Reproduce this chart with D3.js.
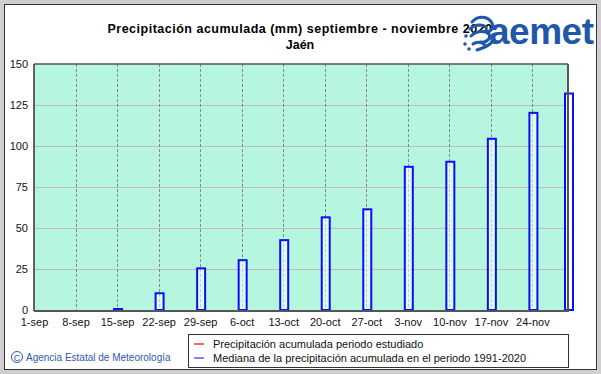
<!DOCTYPE html>
<html>
<head>
<meta charset="utf-8">
<script src="https://cdn.jsdelivr.net/npm/d3@7"></script>
<style>
  body { margin: 0; background: #fff; }
  svg { display: block; font-family: 'Liberation Sans', Arial, sans-serif; }
</style>
</head>
<body>
<svg id="chart" width="601" height="374"></svg>
<script>
// weekly tick dates and their labels
const tickDates = ['2020-09-01', '2020-09-08', '2020-09-15', '2020-09-22', '2020-09-29',
  '2020-10-06', '2020-10-13', '2020-10-20', '2020-10-27', '2020-11-03',
  '2020-11-10', '2020-11-17', '2020-11-24'];
const tickLabels = ['1-sep', '8-sep', '15-sep', '22-sep', '29-sep', '6-oct', '13-oct',
  '20-oct', '27-oct', '3-nov', '10-nov', '17-nov', '24-nov'];

// median accumulated precipitation 1991-2020 (blue bars)
const medianDates = ['2020-09-15', '2020-09-22', '2020-09-29', '2020-10-06', '2020-10-13',
  '2020-10-20', '2020-10-27', '2020-11-03', '2020-11-10', '2020-11-17',
  '2020-11-24', '2020-11-30'];
const medianValues = [0.6, 10.2, 25.4, 30.4, 42.6, 56.5, 61.4, 87.3, 90.4, 104.4, 120.2, 132];

const yTicks = [0, 25, 50, 75, 100, 125, 150];

const legendLabels = ['Precipitación acumulada periodo estudiado',
  'Mediana de la precipitación acumulada en el periodo 1991-2020'];
const legendColors = ['#ff0000', '#3030ff'];

const parse = d3.timeParse('%Y-%m-%d');
const svg = d3.select('#chart');

// outer frame
svg.append('rect').attr('width', 601).attr('height', 374).attr('fill', '#cfcfcf');
svg.append('rect')
  .attr('x', 4.5).attr('y', 4.5).attr('width', 592).attr('height', 365)
  .attr('fill', '#fff').attr('stroke', '#333').attr('stroke-width', 1);

const plotL = 34, plotR = 568, plotT = 64, plotB = 310;

const x = d3.scaleTime()
  .domain([parse('2020-09-01'), parse('2020-11-30')])
  .range([plotL, plotR]);
const y = d3.scaleLinear().domain([0, 150]).range([plotB, plotT]);

// plot background
svg.append('rect')
  .attr('x', plotL).attr('y', plotT)
  .attr('width', plotR - plotL).attr('height', plotB - plotT)
  .attr('fill', '#b6f5de');

// horizontal grid
svg.append('g')
  .selectAll('line')
  .data(yTicks.filter(d => d > 0 && d < 150))
  .join('line')
  .attr('x1', plotL).attr('x2', plotR)
  .attr('y1', d => y(d) + 0.5).attr('y2', d => y(d) + 0.5)
  .attr('stroke', '#c2b6c6').attr('stroke-width', 1.2);

// vertical dashed grid
svg.append('g')
  .selectAll('line')
  .data(tickDates.slice(1))
  .join('line')
  .attr('x1', d => Math.round(x(parse(d))) + 0.5)
  .attr('x2', d => Math.round(x(parse(d))) + 0.5)
  .attr('y1', plotT).attr('y2', plotB)
  .attr('stroke', '#888').attr('stroke-width', 1)
  .attr('stroke-dasharray', '3,2');

// median bars
const barW = 8;
svg.append('g')
  .selectAll('rect')
  .data(medianValues)
  .join('rect')
  .attr('x', (d, i) => x(parse(medianDates[i])) - barW / 2 + 1)
  .attr('y', d => y(d))
  .attr('width', barW)
  .attr('height', d => Math.max(1, plotB - y(d)))
  .attr('fill', 'rgba(255,255,255,0.55)')
  .attr('stroke', '#0a10f5')
  .attr('stroke-width', 2);

// plot border
svg.append('line').attr('x1', plotL).attr('x2', plotR).attr('y1', plotT).attr('y2', plotT)
  .attr('stroke', '#555').attr('stroke-width', 1.5);
svg.append('line').attr('x1', plotR).attr('x2', plotR).attr('y1', plotT).attr('y2', plotB)
  .attr('stroke', '#555').attr('stroke-width', 2);
svg.append('line').attr('x1', plotL).attr('x2', plotL).attr('y1', plotT).attr('y2', plotB + 1)
  .attr('stroke', '#333').attr('stroke-width', 1.5);
svg.append('line').attr('x1', plotL).attr('x2', plotR + 1).attr('y1', plotB + 1).attr('y2', plotB + 1)
  .attr('stroke', '#555').attr('stroke-width', 2);

// axes
const yAxis = svg.append('g')
  .attr('transform', `translate(${plotL - 6},0)`)
  .call(d3.axisLeft(y).tickValues(yTicks).tickSize(0).tickPadding(0));
yAxis.select('.domain').remove();
yAxis.selectAll('text')
  .attr('font-size', 11).attr('fill', '#111')
  .attr('font-family', "'Liberation Sans', Arial, sans-serif");

const xAxis = svg.append('g')
  .attr('transform', `translate(0,${plotB + 6})`)
  .call(d3.axisBottom(x)
    .tickValues(tickDates.map(parse))
    .tickFormat((d, i) => tickLabels[i])
    .tickSize(0).tickPadding(2));
xAxis.select('.domain').remove();
xAxis.selectAll('text')
  .attr('font-size', 11).attr('fill', '#111')
  .attr('font-family', "'Liberation Sans', Arial, sans-serif");

// title
svg.append('text')
  .attr('x', 300).attr('y', 33)
  .attr('text-anchor', 'middle')
  .attr('font-size', 12.5).attr('font-weight', 'bold')
  .attr('letter-spacing', 0.5)
  .text('Precipitación acumulada (mm) septiembre - noviembre 2020');
svg.append('text')
  .attr('x', 300).attr('y', 49)
  .attr('text-anchor', 'middle')
  .attr('font-size', 12.5).attr('font-weight', 'bold')
  .text('Jaén');

// aemet logo (approximation, drawn over the end of the title like the original)
const logo = svg.append('g').attr('transform', 'translate(466,14)');
const swirl = [
  'M6,8 C12,1 22,2 26,9 C28,15 24,19 19,17',
  'M4,15 C9,10 16,10 20,13',
  'M5,22 C10,17 18,16 23,20 C25,24 21,29 15,28',
  'M7,30 C11,27 16,28 19,31',
  'M11,36 C16,34 22,33 26,28'
];
logo.selectAll('path').data(swirl).join('path')
  .attr('d', d => d).attr('fill', 'none')
  .attr('stroke', '#1f58a8').attr('stroke-width', 3).attr('stroke-linecap', 'round');
logo.selectAll('circle').data([[0, 22], [-1, 30], [3, 35]]).join('circle')
  .attr('cx', d => d[0]).attr('cy', d => d[1]).attr('r', 1.8).attr('fill', '#1f58a8');
svg.append('text')
  .attr('x', 489).attr('y', 44)
  .attr('font-size', 37).attr('font-weight', 'bold')
  .attr('letter-spacing', -0.5)
  .attr('fill', '#1f58a8')
  .text('aemet');

// legend
const lg = svg.append('g').attr('transform', 'translate(188,334)');
lg.append('rect').attr('x', 0.5).attr('y', 0.5).attr('width', 380).attr('height', 33)
  .attr('fill', '#fff').attr('stroke', '#333');
legendLabels.forEach((t, i) => {
  lg.append('line')
    .attr('x1', 6).attr('x2', 16)
    .attr('y1', 10 + i * 14).attr('y2', 10 + i * 14)
    .attr('stroke', legendColors[i]).attr('stroke-width', 1.2);
  lg.append('text')
    .attr('x', 25).attr('y', 14 + i * 14)
    .attr('font-size', 11).attr('fill', '#111')
    .text(t);
});

// credit
const cr = svg.append('g').attr('transform', 'translate(17,357)');
cr.append('circle').attr('r', 5.5).attr('fill', 'none').attr('stroke', '#3356b0').attr('stroke-width', 1);
cr.append('text').attr('x', 0).attr('y', 3.5).attr('text-anchor', 'middle')
  .attr('font-size', 9).attr('fill', '#3356b0').text('C');
svg.append('text')
  .attr('x', 26).attr('y', 361)
  .attr('font-size', 10).attr('fill', '#3356b0')
  .text('Agencia Estatal de Meteorología');
</script>
</body>
</html>
